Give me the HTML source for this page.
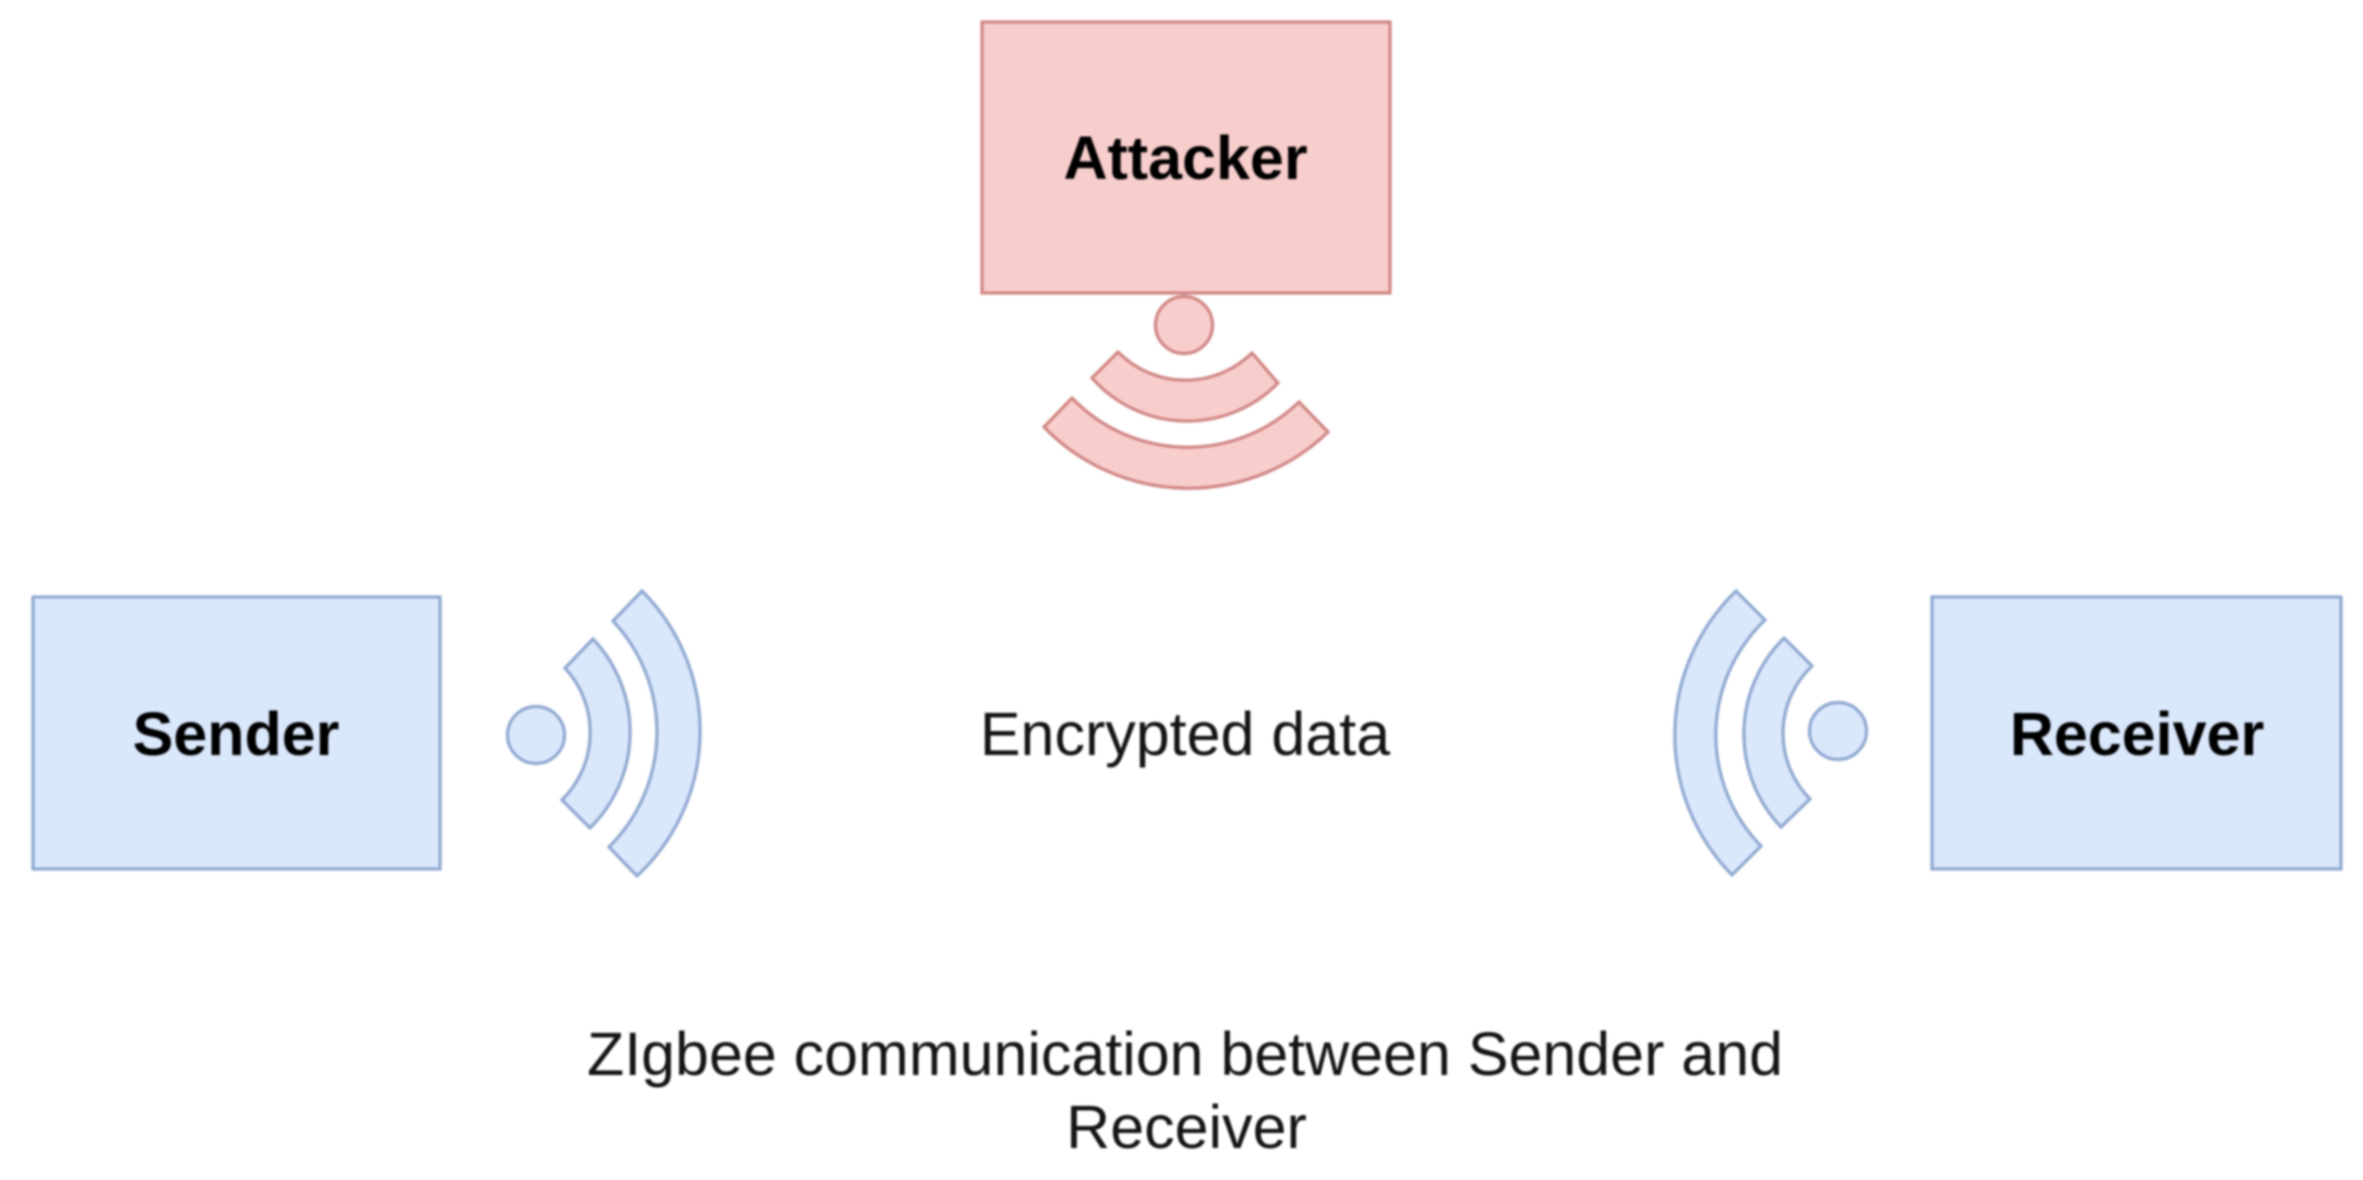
<!DOCTYPE html>
<html>
<head>
<meta charset="utf-8">
<style>
html,body{margin:0;padding:0;background:#fff;width:2363px;height:1180px;overflow:hidden}
svg{display:block;filter:blur(1px)}
text{font-family:"Liberation Sans",sans-serif;fill:#000;text-anchor:middle}
.b{font-weight:bold;font-size:61px}
.r{font-size:61px;fill:#141414}
.red{fill:#f8cecc;stroke:#cf8583;stroke-width:3.2;stroke-linejoin:miter}
.blue{fill:#dae8fc;stroke:#8fa8d0;stroke-width:3.2;stroke-linejoin:miter}
</style>
</head>
<body>
<svg width="2363" height="1180" viewBox="0 0 2363 1180" xmlns="http://www.w3.org/2000/svg">
  <!-- Attacker -->
  <rect class="red" x="982" y="22" width="408" height="271"/>
  <circle class="red" cx="1184" cy="325" r="28.5"/>
  <path class="red" d="M1118 352 A95 95 0 0 0 1252 353 L1278 383 A127 127 0 0 1 1092 378 Z"/>
  <path class="red" d="M1072 398 A160 160 0 0 0 1299 402 L1328 432 A201 201 0 0 1 1044 427 Z"/>
  <text class="b" x="1185.5" y="179">Attacker</text>

  <!-- Sender -->
  <rect class="blue" x="33" y="597" width="407" height="272"/>
  <circle class="blue" cx="536" cy="735" r="28.5"/>
  <path class="blue" d="M565 668 A95 95 0 0 1 562 800 L590 828 A135 135 0 0 0 593 639 Z"/>
  <path class="blue" d="M613 621 A162 162 0 0 1 609 847 L637 876 A198 198 0 0 0 642 591 Z"/>
  <text class="b" x="236" y="755">Sender</text>

  <!-- Receiver -->
  <rect class="blue" x="1932" y="597" width="409" height="272"/>
  <circle class="blue" cx="1838" cy="731" r="28.5"/>
  <path class="blue" d="M1812 666 A93 93 0 0 0 1810 799 L1781 827 A135 135 0 0 1 1784 638 Z"/>
  <path class="blue" d="M1765 620 A159 159 0 0 0 1761 846 L1732 875 A200 200 0 0 1 1736 591 Z"/>
  <text class="b" x="2137" y="755">Receiver</text>

  <!-- Labels -->
  <text class="r" x="1185" y="755">Encrypted data</text>
  <text class="r" x="1185" y="1075" textLength="1196" lengthAdjust="spacingAndGlyphs">ZIgbee communication between Sender and</text>
  <text class="r" x="1186.5" y="1148">Receiver</text>
</svg>
</body>
</html>
